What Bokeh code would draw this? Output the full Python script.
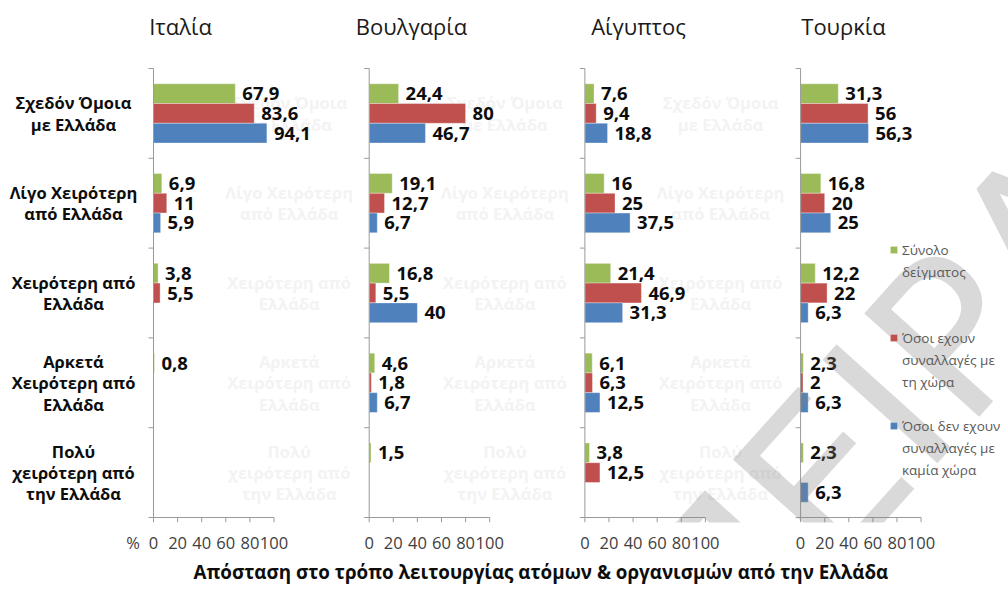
from bokeh.plotting import figure
from bokeh.models import (ColumnDataSource, Range1d, LinearAxis, FixedTicker,
                          Label, Legend, LegendItem, Title)
from bokeh.embed import file_html
from bokeh.resources import INLINE
from bokeh.core.properties import value

# ---- data -------------------------------------------------------------
countries = ["Ιταλία", "Βουλγαρία", "Αίγυπτος", "Τουρκία"]
categories = [
    "Σχεδόν Όμοια\nμε Ελλάδα",
    "Λίγο Χειρότερη\nαπό Ελλάδα",
    "Χειρότερη από\nΕλλάδα",
    "Αρκετά\nΧειρότερη από\nΕλλάδα",
    "Πολύ\nχειρότερη από\nτην Ελλάδα",
]
series_names = [
    ["Σύνολο", "δείγματος"],
    ["Όσοι εχουν", "συναλλαγές με", "τη χώρα"],
    ["Όσοι δεν εχουν", "συναλλαγές με", "καμία χώρα"],
]

italy_total = [67.9, 6.9, 3.8, 0.8, None]
italy_with = [83.6, 11, 5.5, None, None]
italy_without = [94.1, 5.9, None, None, None]

bulgaria_total = [24.4, 19.1, 16.8, 4.6, 1.5]
bulgaria_with = [80, 12.7, 5.5, 1.8, None]
bulgaria_without = [46.7, 6.7, 40, 6.7, None]

egypt_total = [7.6, 16, 21.4, 6.1, 3.8]
egypt_with = [9.4, 25, 46.9, 6.3, 12.5]
egypt_without = [18.8, 37.5, 31.3, 12.5, None]

turkey_total = [31.3, 16.8, 12.2, 2.3, 2.3]
turkey_with = [56, 20, 22, 2, None]
turkey_without = [56.3, 25, 6.3, 6.3, 6.3]

x_ticks = [0, 20, 40, 60, 80, 100]
x_title = "Απόσταση στο τρόπο λειτουργίας ατόμων & οργανισμών από την Ελλάδα"

# ---- layout -----------------------------------------------------------
W, H = 1008, 593
AXIS_X = 153                    # pixel column of the first panel's axis
AXIS_TOP = 68                   # pixel row of the top of the panels
FRAME_B = 522                   # pixel row where the plotting frame ends
PX = 1.205                      # pixels per percentage point
ROW = 89.8                      # pixels per category row
OFFSETS = [0, 179, 358, 537]    # panel origins along the shared x range
BAR_H = 0.22
SHIFT = [BAR_H, 0.0, -BAR_H]    # total on top, then with / without trade
COLORS = ["#9BBB59", "#C0504D", "#4F81BD"]
AXIS = "#9a9a9a"
FONT = "Open Sans"

panels = [
    [italy_total, italy_with, italy_without],
    [bulgaria_total, bulgaria_with, bulgaria_without],
    [egypt_total, egypt_with, egypt_without],
    [turkey_total, turkey_with, turkey_without],
]


def to_x(px):
    return (px - AXIS_X) / PX


def to_y(py):
    return 5 - (py - AXIS_TOP) / ROW


p = figure(width=W, height=H, toolbar_location=None, output_backend="svg",
           x_range=Range1d(to_x(0), to_x(W)),
           y_range=Range1d(to_y(FRAME_B), to_y(0)),
           x_axis_type=None, y_axis_type=None,
           min_border_left=0, min_border_right=0, min_border_top=0,
           min_border_bottom=H - FRAME_B)
p.outline_line_color = None
p.background_fill_color = "white"
p.border_fill_color = "white"


def fmt(v):
    return ("%g" % v).replace(".", ",")


# faint copies of the row labels in front of panels 2-4, dark ones for panel 1
for k in range(4):
    p.text(x=[OFFSETS[k] - 80 / PX] * 5, y=[4.5 - i for i in range(5)],
           text=categories, text_align="center", text_baseline="middle",
           text_font=value(FONT), text_font_style="bold",
           text_font_size="16.5px", text_line_height=0.93,
           text_color="#0d0d0d" if k == 0 else "#f3f3f3")

# bars and their value labels
renderers = []
for s in range(3):
    src = dict(y=[], left=[], right=[], label=[])
    for k, panel in enumerate(panels):
        for i, v in enumerate(panel[s]):
            if v is None:
                continue
            src["y"].append(4.5 - i + SHIFT[s])
            src["left"].append(OFFSETS[k])
            src["right"].append(OFFSETS[k] + v)
            src["label"].append(fmt(v))
    cds = ColumnDataSource(src)
    r = p.hbar(y="y", left="left", right="right", height=BAR_H, source=cds,
               fill_color=COLORS[s], line_color="white", line_alpha=0.35,
               line_width=1)
    renderers.append(r)
    p.text(x="right", y="y", text="label", source=cds, x_offset=7,
           text_align="left", text_baseline="middle",
           text_font=value(FONT), text_font_style="bold",
           text_font_size="18.5px", text_color="#0d0d0d")

# panel axes: vertical line with boundary ticks, baseline with hanging ticks
tick_len_y = 5 / ROW
xs0, ys0, xs1, ys1 = [], [], [], []
for o in OFFSETS:
    xs0.append(o); ys0.append(0); xs1.append(o + x_ticks[-1]); ys1.append(0)
    xs0.append(o); ys0.append(0); xs1.append(o); ys1.append(5)
    for t in range(6):
        xs0.append(o - 5 / PX); ys0.append(t); xs1.append(o); ys1.append(t)
    for t in x_ticks:
        xs0.append(o + t); ys0.append(0); xs1.append(o + t); ys1.append(-tick_len_y)
p.segment(x0=xs0, y0=ys0, x1=xs1, y1=ys1, line_color=AXIS, line_width=1)

# panel titles
p.text(x=[to_x(c) for c in [180, 411, 638, 843]], y=[to_y(25)] * 4,
       text=countries, text_align="center", text_baseline="middle",
       text_font=value(FONT), text_font_size="22px", text_color="#1a1a1a")

# bottom axis carrying the tick labels of every panel (plus the % sign)
ticks, overrides = [-17], {-17: "%"}
for o in OFFSETS:
    for t in x_ticks:
        ticks.append(o + t)
        overrides[o + t] = str(t)
xaxis = LinearAxis(ticker=FixedTicker(ticks=ticks), major_label_overrides=overrides,
                   axis_line_color=None, major_tick_out=0, major_tick_in=0,
                   major_tick_line_color=None, minor_tick_line_color=None,
                   major_label_standoff=8, major_label_text_font=FONT,
                   major_label_text_font_size="16.5px",
                   major_label_text_color="#404040")
p.add_layout(xaxis, "below")

p.add_layout(Title(text=x_title, align="left", offset=193, text_font=FONT,
                   text_font_style="bold", text_font_size="18.8px",
                   text_color="#0d0d0d", standoff=0), "below")

# legend: one entry per text line so each swatch sits beside its first line
blank = p.hbar(y=[], left=[], right=[], height=BAR_H, fill_alpha=0, line_alpha=0)
items = []
spacers = [2, 1, 0]
for names, r, gap in zip(series_names, renderers, spacers):
    for j, line in enumerate(names):
        items.append(LegendItem(label=line, renderers=[r if j == 0 else blank]))
    for _ in range(gap):
        items.append(LegendItem(label="\u00a0", renderers=[blank]))
legend = Legend(items=items, location=(889, FRAME_B - 479),
                orientation="vertical", border_line_color=None,
                background_fill_alpha=0, padding=0, margin=0, spacing=3,
                glyph_width=9, glyph_height=9, label_standoff=4,
                label_height=19, label_text_font=FONT,
                label_text_font_size="13.5px", label_text_color="#595959",
                label_text_baseline="middle")
p.add_layout(legend)

# document watermark
p.add_layout(Label(x=to_x(672), y=to_y(647), text="ΠΕΙΡΑΙΩΣ", angle=48,
                   angle_units="deg", text_align="left",
                   text_baseline="alphabetic", text_font="DejaVu Sans",
                   text_font_size="212px", text_color="#808080",
                   text_alpha=0.3))

open("out.html", "w").write(file_html(p, INLINE))
